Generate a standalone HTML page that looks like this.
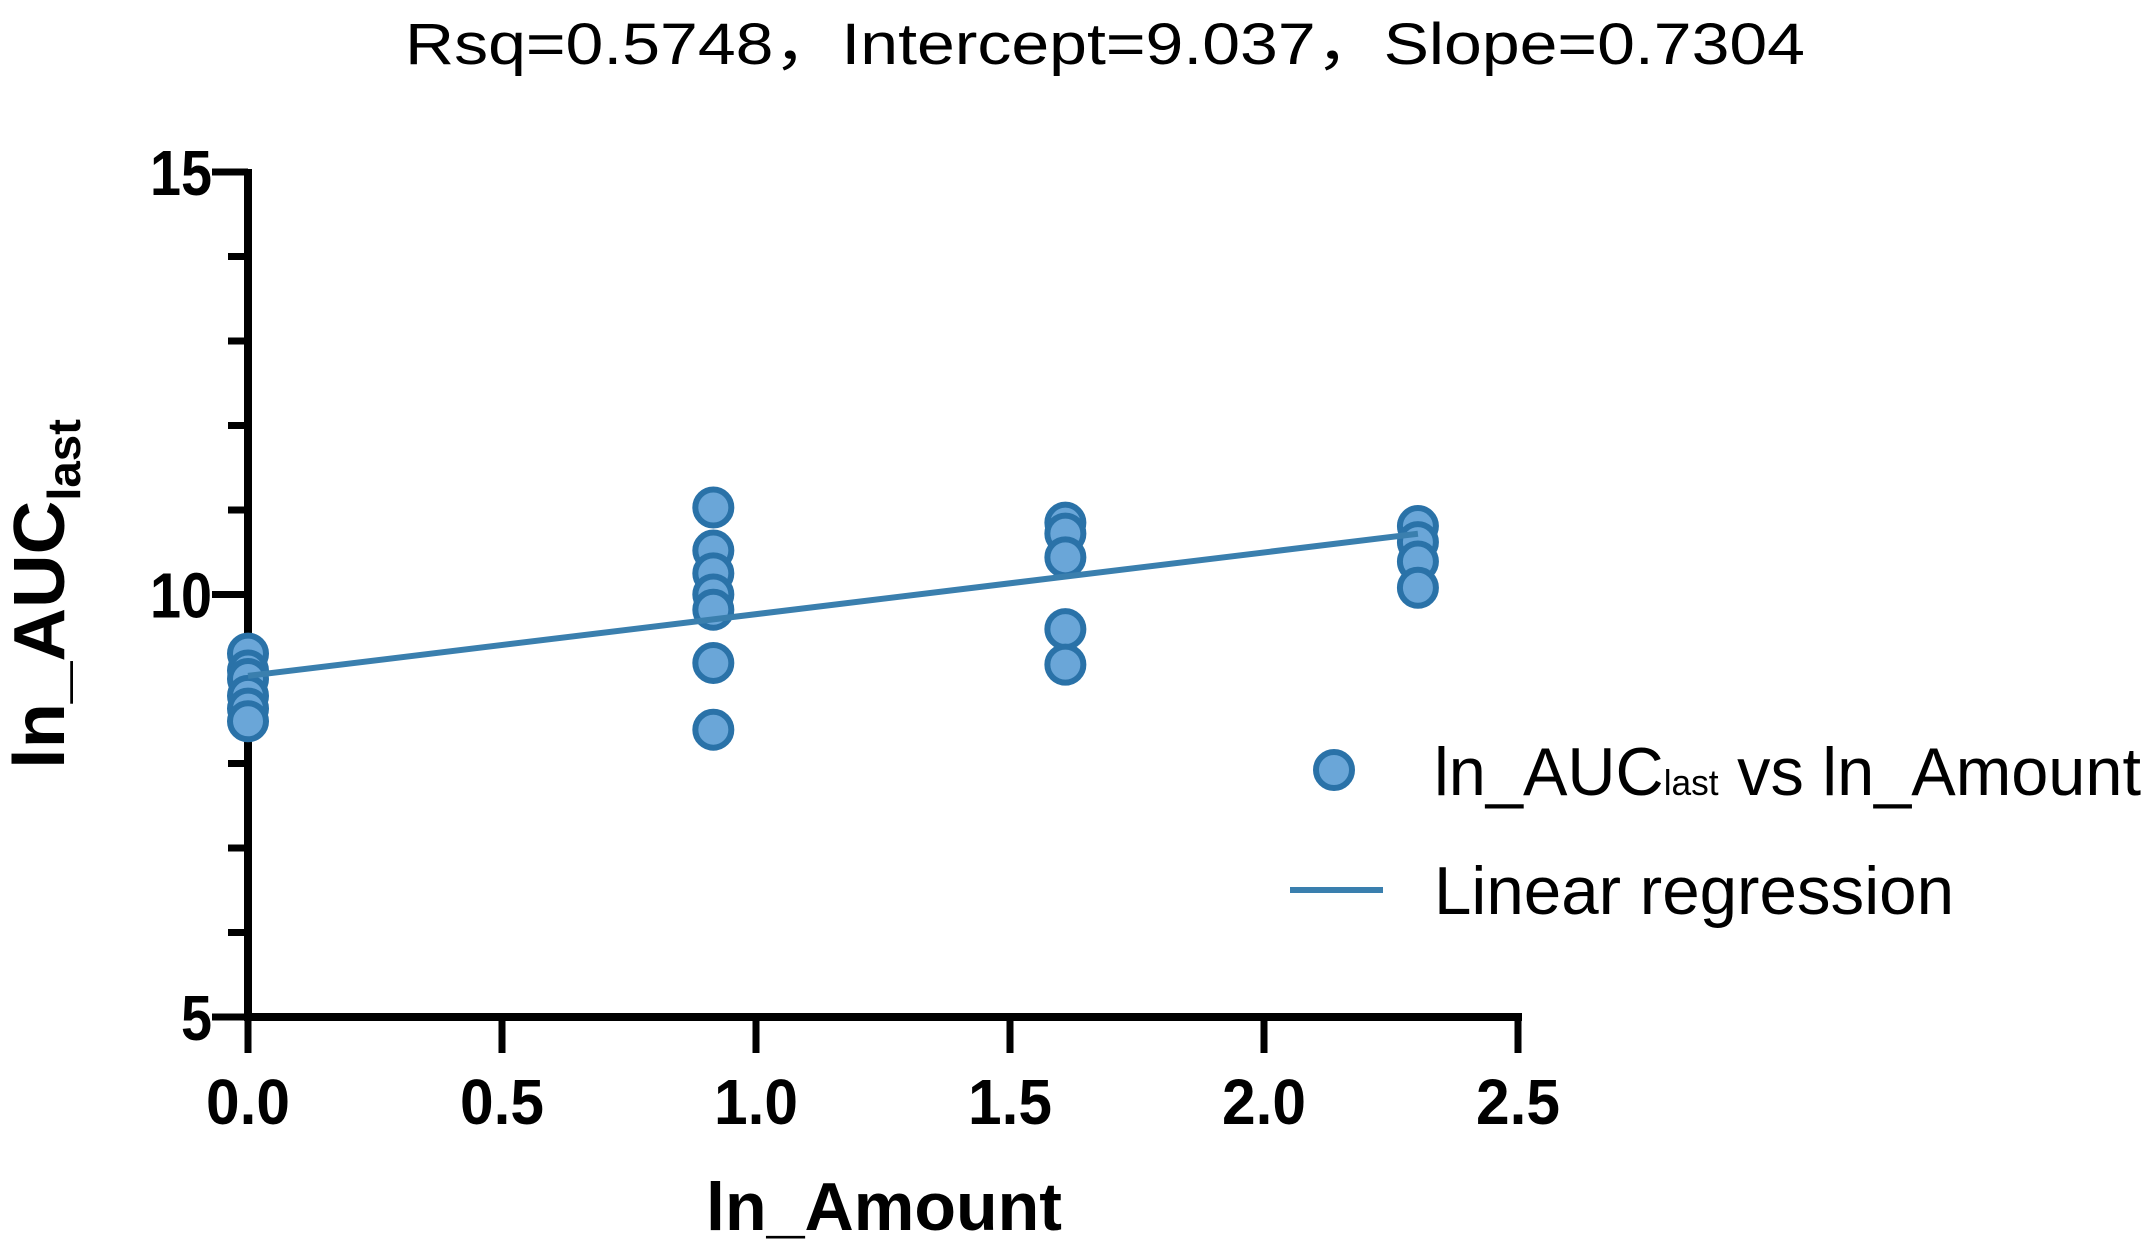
<!DOCTYPE html>
<html><head><meta charset="utf-8"><style>
html,body{margin:0;padding:0;background:#fff;}
svg{display:block;font-family:"Liberation Sans",Arial,sans-serif;}
</style></head><body>
<svg id="chart" width="2156" height="1260" viewBox="0 0 2156 1260">
<text x="1105" y="64" text-anchor="middle" font-size="58" textLength="1400" lengthAdjust="spacingAndGlyphs">Rsq=0.5748，Intercept=9.037，Slope=0.7304</text>
<g id="axes"></g>
<g id="marks"></g>
<text transform="translate(64,594) rotate(-90)" text-anchor="middle" font-size="72" font-weight="bold" textLength="350" lengthAdjust="spacingAndGlyphs">ln_AUC<tspan font-size="46" dy="16">last</tspan></text>
<text x="884" y="1230" text-anchor="middle" font-size="68" font-weight="bold" textLength="356" lengthAdjust="spacingAndGlyphs">ln_Amount</text>
<g>
<circle cx="1334" cy="770" r="18" fill="#6aa6d8" stroke="#2a72a8" stroke-width="6"></circle>
<text x="1434" y="795" font-size="68" textLength="707" lengthAdjust="spacingAndGlyphs">ln_AUC<tspan font-size="36">last</tspan> vs ln_Amount</text>
<line x1="1290" y1="890" x2="1383" y2="890" stroke="#3a7fae" stroke-width="6"></line>
<text x="1434" y="914" font-size="68" textLength="520" lengthAdjust="spacingAndGlyphs">Linear regression</text>
</g>
</svg>
<script>
const xTicks = [0, 0.5, 1.0, 1.5, 2.0, 2.5];
const xTickLabels = ["0.0", "0.5", "1.0", "1.5", "2.0", "2.5"];
const yMajor = [5, 10, 15];
const yMinor = [6, 7, 8, 9, 11, 12, 13, 14];
const pointX = [0,0,0,0,0,0, 0.916,0.916,0.916,0.916,0.916,0.916,0.916, 1.609,1.609,1.609,1.609,1.609, 2.303,2.303,2.303,2.303];
const pointY = [9.3,9.1,9.0,8.8,8.65,8.5, 11.03,10.52,10.25,10.0,9.82,9.19,8.4, 10.85,10.72,10.44,9.59,9.17, 10.81,10.62,10.39,10.08];
const intercept = 9.037;
const slope = 0.7304;
const lineX = [0, 2.303];

const NS = "http://www.w3.org/2000/svg";
const X0 = 248, X1 = 1518, Y0 = 1017, Y1 = 172;
const sx = v => X0 + (v - 0) / 2.5 * (X1 - X0);
const sy = v => Y0 - (v - 5) / 10 * (Y0 - Y1);
function mk(tag, attrs, parent) {
  const e = document.createElementNS(NS, tag);
  for (const k in attrs) e.setAttribute(k, attrs[k]);
  parent.appendChild(e);
  return e;
}
const axes = document.getElementById('axes');
const marks = document.getElementById('marks');
let e = mk('line', {x1: X0, y1: Y1 - 3, x2: X0, y2: Y0 + 4, stroke: '#000', 'stroke-width': 8}, axes);


e = mk('line', {x1: X0 - 4, y1: Y0, x2: X1 + 4, y2: Y0, stroke: '#000', 'stroke-width': 8}, axes);


xTicks.forEach((v, i) => {
  const t = mk('line', {x1: sx(v), y1: Y0, x2: sx(v), y2: Y0 + 36, stroke: '#000', 'stroke-width': 7}, axes);
  
  
  const l = mk('text', {x: sx(v), y: 1124, 'text-anchor': 'middle', 'font-size': 64, 'font-weight': 'bold', textLength: 84, lengthAdjust: 'spacingAndGlyphs'}, axes);
  l.textContent = xTickLabels[i];
  
  
});
yMajor.forEach(v => {
  const t = mk('line', {x1: X0 - 36, y1: sy(v), x2: X0, y2: sy(v), stroke: '#000', 'stroke-width': 7}, axes);
  
  
  const txt = String(v);
  const l = mk('text', {x: 212, y: sy(v) + 23, 'text-anchor': 'end', 'font-size': 64, 'font-weight': 'bold', textLength: txt.length * 31, lengthAdjust: 'spacingAndGlyphs'}, axes);
  l.textContent = txt;
  
  
});
yMinor.forEach(v => {
  const t = mk('line', {x1: X0 - 20, y1: sy(v), x2: X0, y2: sy(v), stroke: '#000', 'stroke-width': 7}, axes);
  
  
});
pointX.forEach((xv, i) => {
  const c = mk('circle', {cx: sx(xv), cy: sy(pointY[i]), r: 18, fill: '#6aa6d8', stroke: '#2a72a8', 'stroke-width': 6}, marks);
  
  
});
const rl = mk('line', {x1: sx(lineX[0]), y1: sy(intercept + slope * lineX[0]), x2: sx(lineX[1]), y2: sy(intercept + slope * lineX[1]), stroke: '#3a7fae', 'stroke-width': 6}, marks);


</script>
</body></html>
